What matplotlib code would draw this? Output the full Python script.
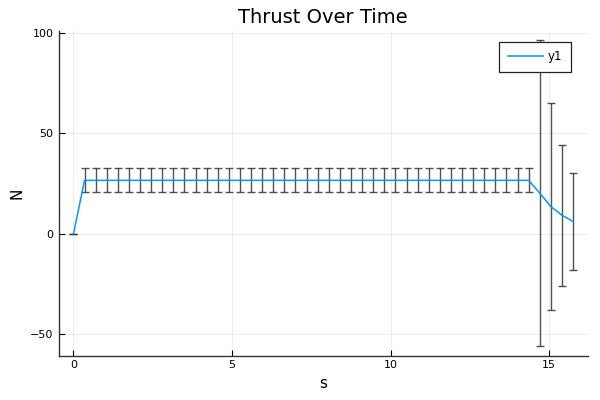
import matplotlib
matplotlib.use("Agg")
import matplotlib.pyplot as plt
import numpy as np

# data
time_s = [0.35 * k for k in range(46)]
thrust_N = [0.0] + [26.6] * 41 + [20.2, 13.5, 9.2, 6.1]
thrust_err = [0.0] + [6.0] * 41 + [76.2, 51.6, 35.0, 24.0]
x_ticks = [0, 5, 10, 15]
y_ticks = [-50, 0, 50, 100]

fig = plt.figure(figsize=(6, 4), dpi=100)
ax = fig.add_axes([0.0975, 0.111, 0.8825, 0.8115])

ax.errorbar(time_s, thrust_N, yerr=thrust_err, fmt='none', ecolor='#333333',
            elinewidth=1.0, capsize=3, capthick=1.0, alpha=0.85, zorder=2)
ax.plot(time_s, thrust_N, color='#009AFA', lw=1.1, label='y1', zorder=3)

ax.set_xlim(-0.47, 16.22)
ax.set_ylim(-60.7, 101)
ax.set_xticks(x_ticks)
ax.set_yticks(y_ticks)
ax.tick_params(direction='in', length=4, width=0.8, labelsize=8, colors='black')
ax.grid(True, color='black', alpha=0.1, lw=0.5)
for side in ['top', 'right']:
    ax.spines[side].set_visible(False)
for side in ['left', 'bottom']:
    ax.spines[side].set_color('#333333')
    ax.spines[side].set_linewidth(1.0)

ax.set_title('Thrust Over Time', fontsize=14)
ax.set_xlabel('s', fontsize=11)
ax.set_ylabel('N', fontsize=11)

leg = ax.legend(loc='upper right', fontsize=8.5, fancybox=False, framealpha=1,
                edgecolor='#222222', borderpad=0.7, handlelength=2.97,
                handletextpad=0.42, borderaxespad=0,
                bbox_to_anchor=(0.967, 0.966))
leg.get_frame().set_linewidth(0.9)

fig.savefig('out.png', dpi=100)
